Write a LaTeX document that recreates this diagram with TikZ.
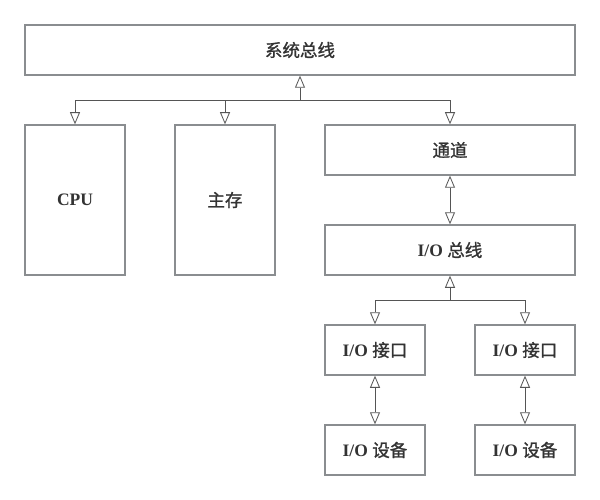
\documentclass[tikz,border=0pt]{standalone}
\usepackage{fontspec}
\setmainfont{Liberation Serif}
\newfontfamily\cjk{Noto Sans CJK SC}[BoldFont={Noto Sans CJK SC}, BoldFeatures={FakeBold=1.2}]
\usetikzlibrary{arrows.meta}
\definecolor{boxgray}{HTML}{8A8D90}
\definecolor{linegray}{HTML}{555555}
\definecolor{txtgray}{HTML}{333333}
\tikzset{
  blk/.style={draw=boxgray, line width=1.5pt, rectangle, inner sep=0pt, text=txtgray, font=\fontsize{17.5}{20}\selectfont\bfseries},
  conn/.style={draw=linegray, line width=0.8pt, -{Triangle[open, length=12pt, width=10pt]}},
  bconn/.style={draw=linegray, line width=0.8pt, {Triangle[open, length=12pt, width=10pt]}-{Triangle[open, length=12pt, width=10pt]}},
}
\begin{document}
\begin{tikzpicture}[x=1pt,y=-1pt]
\useasboundingbox[fill=white] (0,0) rectangle (600,500);
\node[blk, minimum width=550pt, minimum height=50pt] (sys) at (300,50) {\cjk 系统总线};
\node[blk, minimum width=100pt, minimum height=150pt] (cpu) at (75,200) {CPU};
\node[blk, minimum width=100pt, minimum height=150pt] (mem) at (225,200) {\cjk 主存};
\node[blk, minimum width=250pt, minimum height=50pt] (chan) at (450,150) {\cjk 通道};
\node[blk, minimum width=250pt, minimum height=50pt] (iobus) at (450,250) {I/O {\cjk 总线}};
\node[blk, minimum width=100pt, minimum height=50pt] (if1) at (375,350) {I/O {\cjk 接口}};
\node[blk, minimum width=100pt, minimum height=50pt] (if2) at (525,350) {I/O {\cjk 接口}};
\node[blk, minimum width=100pt, minimum height=50pt] (dev1) at (375,450) {I/O {\cjk 设备}};
\node[blk, minimum width=100pt, minimum height=50pt] (dev2) at (525,450) {I/O {\cjk 设备}};
\coordinate (j1) at (300,100);
\coordinate (j2) at (450,300);
\draw[conn] (j1) -- (sys.south);
\draw[conn] (j1) -| (cpu.north);
\draw[conn] (j1) -| (mem.north);
\draw[conn] (j1) -| (chan.north);
\draw[bconn] (chan.south) -- (iobus.north);
\draw[conn] (j2) -- (iobus.south);
\draw[conn] (j2) -| (if1.north);
\draw[conn] (j2) -| (if2.north);
\draw[bconn] (if1.south) -- (dev1.north);
\draw[bconn] (if2.south) -- (dev2.north);
\end{tikzpicture}
\end{document}
